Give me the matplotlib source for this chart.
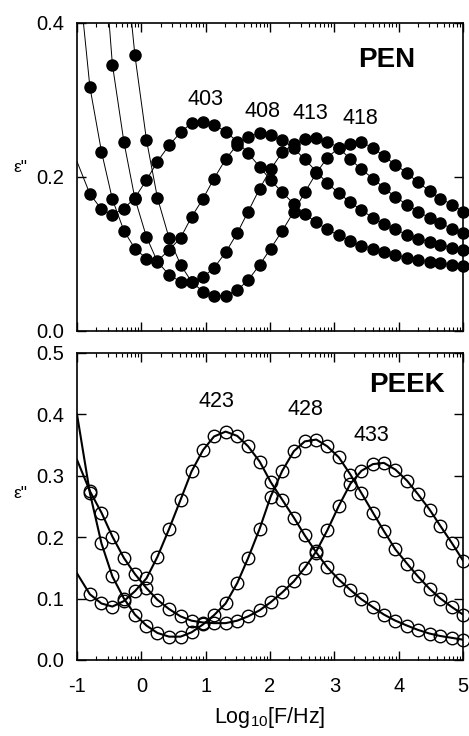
import matplotlib
matplotlib.use("Agg")
import matplotlib.pyplot as plt
from matplotlib.ticker import FixedLocator, NullFormatter
import numpy as np

plt.rcParams['font.family'] = ['Liberation Sans', 'DejaVu Sans']
plt.rcParams['mathtext.fontset'] = 'custom'
plt.rcParams['mathtext.rm'] = 'Liberation Sans'
plt.rcParams['mathtext.it'] = 'Liberation Sans:italic'

# ---------------- data (log10 frequency) ----------------
x_grid = [-0.80, -0.62, -0.45, -0.27, -0.10, 0.08, 0.25, 0.43, 0.61, 0.78,
          0.96, 1.13, 1.31, 1.49, 1.66, 1.84, 2.01, 2.19, 2.37, 2.54,
          2.72, 2.89, 3.07, 3.25, 3.42, 3.60, 3.77, 3.95, 4.13, 4.30,
          4.48, 4.65, 4.83, 5.00]

# PEN (filled symbols)
pen_labels = ["403", "408", "413", "418"]
pen_403 = [0.178, 0.158, 0.151, 0.159, 0.173, 0.196, 0.220, 0.241, 0.258, 0.270,
           0.272, 0.268, 0.259, 0.246, 0.231, 0.213, 0.196, 0.180, 0.165, 0.152,
           0.141, 0.132, 0.124, 0.117, 0.111, 0.107, 0.103, 0.099, 0.095, 0.092,
           0.090, 0.088, 0.086, 0.084]
pen_408 = [0.317, 0.233, 0.171, 0.130, 0.107, 0.094, 0.091, 0.105, 0.121, 0.148,
           0.172, 0.198, 0.223, 0.242, 0.252, 0.257, 0.255, 0.248, 0.237, 0.223,
           0.207, 0.192, 0.179, 0.167, 0.157, 0.147, 0.139, 0.132, 0.125, 0.120,
           0.116, 0.112, 0.108, 0.105]
pen_413 = [0.346, 0.245, 0.172, 0.122, 0.090, 0.073, 0.064, 0.064, 0.070, 0.082,
           0.102, 0.127, 0.155, 0.185, 0.210, 0.232, 0.243, 0.249, 0.250, 0.246,
           0.238, 0.223, 0.210, 0.198, 0.186, 0.174, 0.164, 0.155, 0.147, 0.140,
           0.133, 0.127]
pen_418 = [0.358, 0.248, 0.173, 0.121, 0.086, 0.064, 0.051, 0.046, 0.046, 0.053,
           0.066, 0.086, 0.107, 0.130, 0.155, 0.180, 0.205, 0.225, 0.238, 0.243,
           0.245, 0.238, 0.227, 0.216, 0.205, 0.193, 0.182, 0.172, 0.164, 0.155]
# where each fitted line enters the frame (x, y)
pen_line_start = [(-1.00, 0.220), (-0.90, 0.400), (-0.50, 0.400), (-0.15, 0.400)]

# PEEK (open symbols)
peek_labels = ["423", "428", "433"]
peek_423 = [0.107, 0.092, 0.087, 0.096, 0.112, 0.133, 0.168, 0.213, 0.261, 0.307,
            0.342, 0.364, 0.372, 0.365, 0.348, 0.323, 0.290, 0.261, 0.232, 0.203,
            0.175, 0.151, 0.131, 0.114, 0.099, 0.086, 0.074, 0.064, 0.056, 0.049,
            0.043, 0.039, 0.036, 0.033]
peek_428 = [0.272, 0.190, 0.136, 0.100, 0.074, 0.056, 0.044, 0.038, 0.038, 0.045,
            0.058, 0.073, 0.092, 0.125, 0.166, 0.214, 0.266, 0.308, 0.340, 0.356,
            0.359, 0.348, 0.330, 0.302, 0.272, 0.240, 0.210, 0.180, 0.157, 0.136,
            0.116, 0.100, 0.086, 0.074]
peek_433 = [0.275, 0.240, 0.201, 0.166, 0.140, 0.117, 0.098, 0.083, 0.071, 0.064,
            0.061, 0.060, 0.060, 0.064, 0.071, 0.081, 0.094, 0.110, 0.128, 0.150,
            0.177, 0.211, 0.251, 0.287, 0.308, 0.319, 0.321, 0.310, 0.292, 0.270,
            0.245, 0.218, 0.190, 0.162]
peek_line_start = [(-1.00, 0.141), (-1.00, 0.400), (-1.00, 0.326)]

pen_label_pos = [(0.99, 0.300), (1.88, 0.285), (2.63, 0.283), (3.41, 0.276)]
peek_label_pos = [(1.16, 0.421), (2.55, 0.408), (3.57, 0.366)]

x_ticks = [-1, 0, 1, 2, 3, 4, 5]
pen_yticks = [0.0, 0.2, 0.4]
peek_yticks = [0.0, 0.1, 0.2, 0.3, 0.4, 0.5]

# ---------------- figure ----------------
fig = plt.figure(figsize=(4.69, 7.36), dpi=100)
ax1 = fig.add_axes([0.1642, 0.5503, 0.8230, 0.4185])
ax2 = fig.add_axes([0.1642, 0.1033, 0.8230, 0.4171])

minor = [d + np.log10(m) for d in range(-1, 5) for m in range(2, 10)]


def style(ax, yticks, ylim, labels_x):
    ax.set_xlim(-1, 5)
    ax.set_ylim(*ylim)
    ax.xaxis.set_major_locator(FixedLocator(x_ticks))
    ax.xaxis.set_minor_locator(FixedLocator(minor))
    ax.yaxis.set_major_locator(FixedLocator(yticks))
    ax.tick_params(which='both', direction='in', top=True, right=True,
                   labelsize=14.5, width=1.0)
    ax.tick_params(axis='y', pad=9.5)
    ax.tick_params(axis='x', pad=12)
    ax.tick_params(which='major', length=6.5)
    ax.tick_params(which='minor', length=3, width=0.8)
    ax.set_yticklabels([f"{v:.1f}" for v in yticks])
    if labels_x:
        ax.set_xticklabels([str(v) for v in x_ticks])
    else:
        ax.xaxis.set_major_formatter(NullFormatter())
    for s in ax.spines.values():
        s.set_linewidth(1.2)


style(ax1, pen_yticks, (0, 0.4), False)
style(ax2, peek_yticks, (0, 0.5), True)

# PEN
pen_series = [pen_403, pen_408, pen_413, pen_418]
for ys, (sx, sy) in zip(pen_series, pen_line_start):
    xs = x_grid[len(x_grid) - len(ys):]
    ax1.plot([sx] + xs, [sy] + ys, color='black', lw=0.7, zorder=2)
for ys in pen_series:
    xs = x_grid[len(x_grid) - len(ys):]
    ax1.plot(xs, ys, 'o', color='black', ms=8.0, zorder=3, clip_on=False)
for lab, (lx, ly) in zip(pen_labels, pen_label_pos):
    ax1.text(lx, ly, lab, ha='center', va='center', fontsize=15.5)
ax1.text(3.82, 0.352, "PEN", ha='center', va='center', fontsize=20,
         fontweight='bold')

# PEEK
peek_series = [peek_423, peek_428, peek_433]
for ys, (sx, sy) in zip(peek_series, peek_line_start):
    ax2.plot([sx] + x_grid, [sy] + ys, color='black', lw=1.5, zorder=2)
for ys in peek_series:
    ax2.plot(x_grid, ys, 'o', mfc='none', mec='black', mew=1.0, ms=9.0,
             zorder=3, clip_on=False)
for lab, (lx, ly) in zip(peek_labels, peek_label_pos):
    ax2.text(lx, ly, lab, ha='center', va='center', fontsize=15.5)
ax2.text(4.13, 0.448, "PEEK", ha='center', va='center', fontsize=20,
         fontweight='bold')

# axis labels
fig.text(20 / 469, 1 - 168 / 736, 'ε"', ha='center', va='center', fontsize=12.5)
fig.text(20 / 469, 1 - 493 / 736, 'ε"', ha='center', va='center', fontsize=12.5)
fig.text(270 / 469, 1 - 718 / 736, r'Log$_{10}$[F/Hz]', ha='center',
         va='center', fontsize=15.5)

fig.savefig("out.png", dpi=100)
